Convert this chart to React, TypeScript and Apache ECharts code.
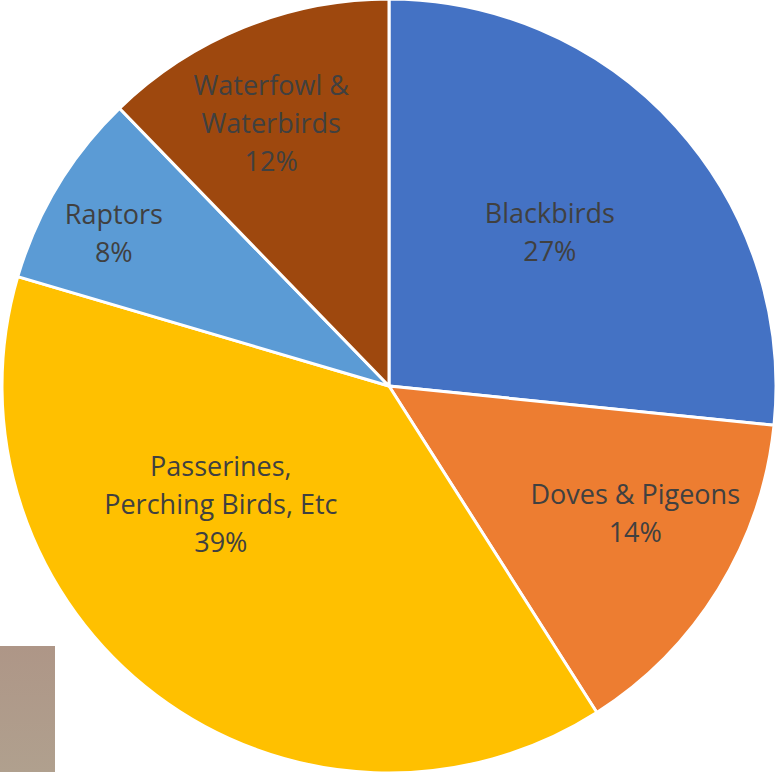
import React, { useEffect, useRef } from "react";
import * as echarts from "echarts";

const categories = [
  "Blackbirds",
  "Doves & Pigeons",
  "Passerines,\nPerching Birds, Etc",
  "Raptors",
  "Waterfowl &\nWaterbirds",
];
const shares = [26.7, 14.4, 38.7, 8.2, 12.3];
const colors = ["#4472C4", "#ED7D31", "#FFC000", "#5B9BD5", "#9E480E"];

// label nudges (px) to mimic the original label placement
const labelShift: [number, number][] = [
  [15, -23],
  [79, 23],
  [-50, -39],
  [-107, -52],
  [-44, -81],
];

export default function App() {
  const ref = useRef<HTMLDivElement>(null);
  useEffect(() => {
    if (!ref.current) return;
    const chart = echarts.init(ref.current, null, { renderer: "svg" });
    chart.setOption({
      animation: false,
      backgroundColor: "#ffffff",
      graphic: [
        {
          type: "rect",
          left: 0,
          top: 646,
          shape: { width: 55, height: 126 },
          style: {
            fill: new echarts.graphic.LinearGradient(0, 0, 0, 1, [
              { offset: 0, color: "#AE9687" },
              { offset: 1, color: "#B0A08E" },
            ]),
          },
          z: -1,
        },
      ],
      series: [
        {
          type: "pie",
          center: [389, 386],
          radius: [0, 387],
          startAngle: 90,
          clockwise: true,
          avoidLabelOverlap: false,
          itemStyle: { borderColor: "#ffffff", borderWidth: 3 },
          label: {
            show: true,
            position: "inside",
            fontFamily: "Open Sans",
            fontSize: 27,
            lineHeight: 38,
            color: "#404040",
            align: "center",
            formatter: (p: any) => `${p.name}\n${Math.round(p.percent)}%`,
          },
          labelLine: { show: false },
          labelLayout: (params: any) => {
            const s = labelShift[params.dataIndex] || [0, 0];
            return { dx: s[0], dy: s[1] };
          },
          emphasis: { disabled: true },
          data: categories.map((name, i) => ({
            name,
            value: shares[i],
            itemStyle: { color: colors[i] },
          })),
        },
      ],
    });
    return () => chart.dispose();
  }, []);
  return (
    <div
      ref={ref}
      style={{ position: "absolute", left: 0, top: 0, width: 776, height: 772 }}
    />
  );
}
